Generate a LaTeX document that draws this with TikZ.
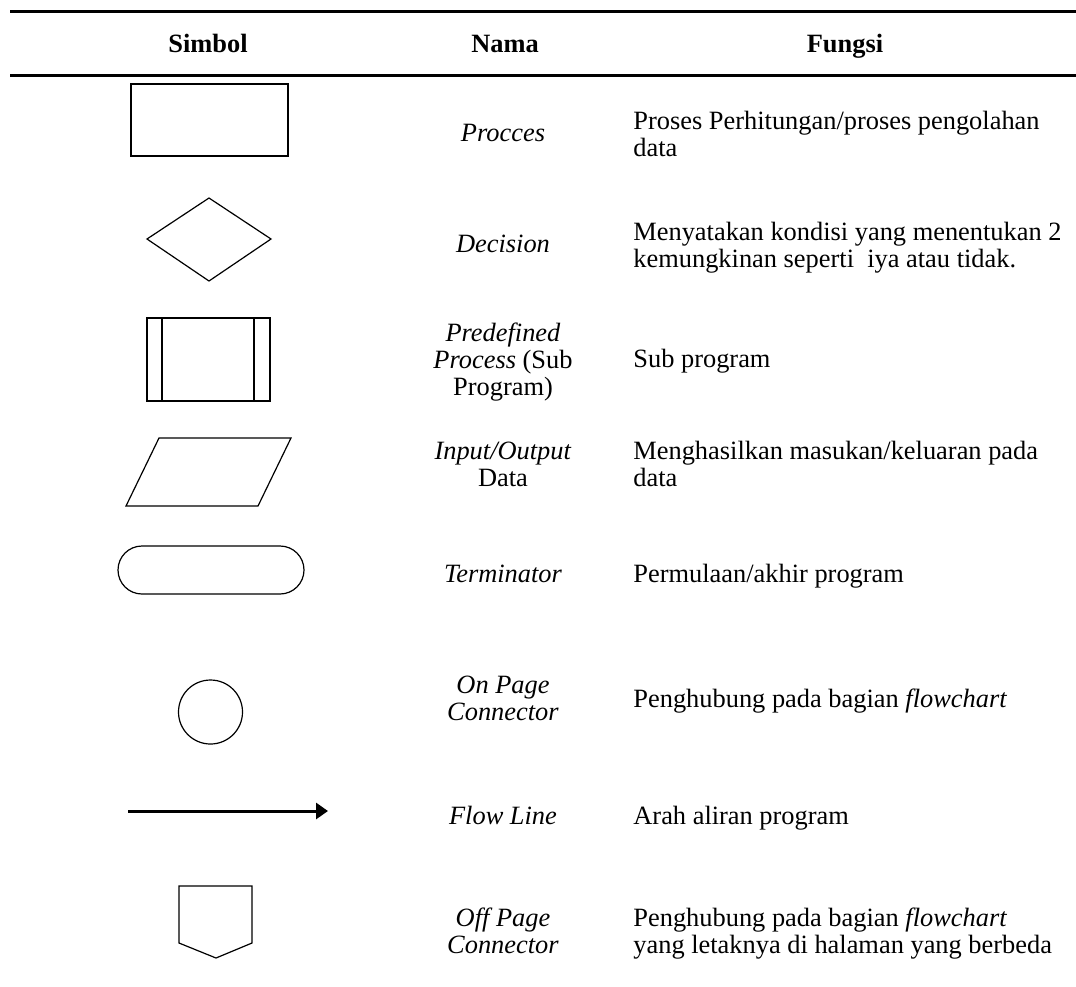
\documentclass[tikz,border=0pt]{standalone}
\usepackage{fontspec}
\setmainfont{Liberation Serif}
\usetikzlibrary{arrows.meta}

\begin{document}
\begin{tikzpicture}[x=0.5pt, y=-0.5pt,
  every node/.style={font=\fontsize{13.2}{13.5}\selectfont, inner sep=0pt},
  head/.style={font=\fontsize{13.2}{13.5}\selectfont\bfseries, anchor=base},
  nama/.style={align=center, anchor=base},
  fungsi/.style={align=left, anchor=base west},
  rule/.style={line width=1.5pt},
  sym/.style={line width=0.6pt}]
  \useasboundingbox (0,0) rectangle (1076,986);

  % Header
  \draw[rule] (10,11) -- (1076,11);
  \draw[rule] (10,75) -- (1076,75);
  \node[head] (hsimbol) at (208,52) {Simbol};
  \node[head] (hnama) at (505,52) {Nama};
  \node[head] (hfungsi) at (845,52) {Fungsi};

  % Process
  \draw[line width=1pt] (131,84) rectangle (288,156);
  \node[nama] (nproc) at (503,141) {\textit{Procces}};
  \node[fungsi] (fproc) at (633,156) {Proses Perhitungan/proses pengolahan\\data};

  % Decision
  \draw[sym] (147,239) -- (209,198) -- (271,239) -- (209,281) -- cycle;
  \node[nama] (ndec) at (503,252) {\textit{Decision}};
  \node[fungsi] (fdec) at (633,267) {Menyatakan kondisi yang menentukan 2\\kemungkinan seperti\ \ iya atau tidak.};

  % Predefined process
  \draw[sym] (147,318) rectangle (270,401);
  \draw[sym] (162,318) -- (162,401);
  \draw[sym] (254,318) -- (254,401);
  \node[nama] (npre) at (503,395) {\textit{Predefined}\\\textit{Process} (Sub\\Program)};
  \node[fungsi] (fpre) at (633,367) {Sub program};

  % Input/Output
  \draw[sym] (159,438) -- (291,438) -- (258,506) -- (126,506) -- cycle;
  \node[nama] (nio) at (503,486) {\textit{Input/Output}\\Data};
  \node[fungsi] (fio) at (633,486) {Menghasilkan masukan/keluaran pada\\data};

  % Terminator
  \draw[sym, rounded corners=12pt] (118,546) rectangle (304,594);
  \node[nama] (nterm) at (503,582) {\textit{Terminator}};
  \node[fungsi] (fterm) at (633,582) {Permulaan/akhir program};

  % On page connector
  \draw[sym] (210.5,712) circle[radius=16pt];
  \node[nama] (non) at (503,720) {\textit{On Page}\\\textit{Connector}};
  \node[fungsi] (fon) at (633,707) {Penghubung pada bagian \textit{flowchart}};

  % Flow line
  \coordinate (flowa) at (128,811);
  \coordinate (flowb) at (328,811);
  \draw[line width=1.5pt, -{Triangle[length=6pt,width=8pt]}] (flowa) -- (flowb);
  \node[nama] (nflow) at (503,824) {\textit{Flow Line}};
  \node[fungsi] (fflow) at (633,824) {Arah aliran program};

  % Off page connector
  \draw[sym] (179,886) -- (252,886) -- (252,943) -- (216,958) -- (179,943) -- cycle;
  \node[nama] (noff) at (503,953) {\textit{Off Page}\\\textit{Connector}};
  \node[fungsi] (foff) at (633,953) {Penghubung pada bagian \textit{flowchart}\\yang letaknya di halaman yang berbeda};
\end{tikzpicture}
\end{document}
